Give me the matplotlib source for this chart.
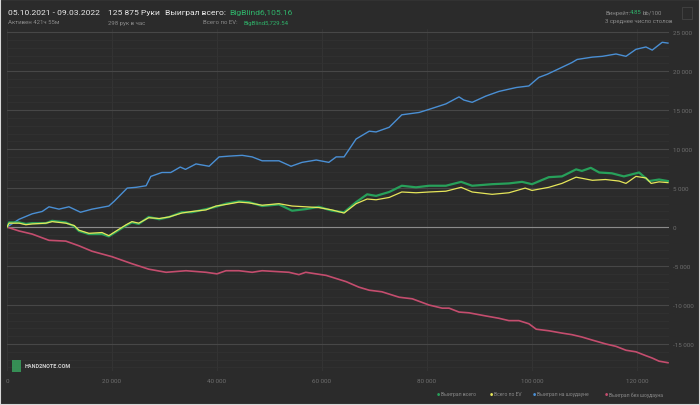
import matplotlib
matplotlib.use("Agg")
import matplotlib.pyplot as plt
from matplotlib.ticker import FuncFormatter, MultipleLocator
from matplotlib.patches import Rectangle

plt.rcParams['font.family'] = ['Roboto', 'DejaVu Sans']

# hands (thousands) and winnings in big blinds
sd_hands = [0, 2.3, 4.8, 6.7, 8, 9.9, 11.8, 14, 16.2, 19.4, 20.4, 22.9, 24.6, 26.5, 27.4,
            29.5, 31.2, 33, 34, 36, 38.5, 40.4, 42.3, 44.8, 46.7, 48.6, 51.8, 54.1, 56.2,
            58.9, 61.3, 62.7, 64.2, 66.5, 69, 70.3, 72.8, 75.2, 78.5, 80.4, 83.6, 86.1, 87,
            88.6, 91.2, 93.7, 97, 99.4, 101.3, 102.9, 105.1, 107.6, 108.6, 111.5, 113.4, 116,
            117.9, 119.8, 121.7, 122.9, 124.8, 125.9]
sd_won = [0, 1000, 1700, 2000, 2600, 2300, 2600, 1900, 2300, 2700, 3300, 5000, 5100, 5300, 6500,
          7000, 7000, 7700, 7400, 8100, 7800, 9000, 9100, 9200, 9000, 8500, 8500, 7800, 8300,
          8600, 8300, 9000, 9000, 11300, 12300, 12200, 12800, 14400, 14700, 15100, 15800, 16700, 16300,
          16000, 16800, 17400, 17900, 18100, 19200, 19600, 20300, 21100, 21500, 21800, 21900, 22200,
          21900, 22800, 23100, 22700, 23700, 23600]

tot_hands = [0, 0.4, 2.3, 3.6, 4.8, 7.4, 8.6, 11.2, 12.8, 13.7, 15.6, 18.1, 19.4, 20.8, 22.7,
             23.8, 25.1, 27, 29, 30.9, 33.3, 35.2, 37.9, 39.8, 41.7, 44.2, 46.1, 48.6, 51.8,
             54.3, 56.9, 59.4, 61.9, 64.2, 66.5, 68.6, 70.3, 72.8, 75.2, 77.9, 80.4, 83.6, 86.5,
             88.6, 92.4, 95.6, 98.1, 100, 103.2, 105.7, 108.4, 109.5, 111.2, 112.8, 115.2, 117.5,
             120.4, 122.3, 124.2, 125.9]
tot_won = [0, 600, 600, 400, 500, 500, 800, 600, 100, -500, -900, -900, -1200, -600, 200,
           600, 400, 1300, 1000, 1300, 1900, 1900, 2300, 2600, 3000, 3300, 3200, 2700, 2900,
           2100, 2300, 2600, 2100, 1900, 3200, 4200, 4000, 4500, 5300, 5100, 5300, 5300, 5800,
           5300, 5500, 5600, 5800, 5500, 6400, 6500, 7400, 7200, 7600, 7000, 6900, 6500,
           7000, 5900, 6100, 5900]

ev_hands = [0, 0.4, 2.3, 3.6, 4.8, 7.4, 8.6, 11.2, 12.8, 13.7, 15.6, 18.1, 19.4, 20.8, 22.7,
            23.8, 25.1, 27, 29, 30.9, 33.3, 35.2, 37.9, 39.8, 41.7, 44.2, 46.1, 48.6, 51.8,
            54.3, 56.9, 59.4, 61.9, 64.2, 66.5, 68.6, 70.3, 72.8, 75.2, 77.9, 80.4, 83.6, 86.5,
            88.6, 92.4, 95.6, 98.7, 100, 103.2, 105.7, 108.4, 111.5, 114, 116.6, 117.9, 119.8,
            121.7, 122.7, 124.2, 125.9]
ev_won = [0, 500, 500, 300, 400, 500, 700, 500, 200, -400, -800, -700, -1100, -500, 300,
          700, 500, 1200, 1100, 1300, 1800, 2000, 2200, 2700, 2900, 3200, 3100, 2800, 3000,
          2700, 2600, 2500, 2200, 1800, 3000, 3600, 3500, 3800, 4500, 4400, 4500, 4600, 5100,
          4500, 4200, 4400, 5000, 4700, 5100, 5600, 6400, 6000, 6100, 5900, 5600, 6500,
          6300, 5600, 5800, 5700]

nsd_hands = [0, 2.3, 4.8, 8, 11.2, 13.7, 16.2, 20, 23.8, 27, 30.3, 34.1, 37.9, 40, 41.7, 44.2,
             46.7, 48.6, 53.7, 55.6, 56.9, 60.8, 62.7, 64.6, 67, 69, 71.4, 74.7, 77.2, 80.4,
             82.9, 84.2, 86.1, 88, 91.2, 93.7, 95.6, 97.5, 99.4, 100.8, 103.2, 105.7, 107.6,
             109.5, 111.5, 114.1, 116, 117.9, 119.8, 121.7, 122.9, 124.2, 125.9]
nsd_won = [0, -500, -900, -1700, -1800, -2400, -3100, -3800, -4700, -5400, -5800, -5600, -5800, -6000, -5600, -5600,
           -5800, -5600, -5800, -6100, -5800, -6200, -6600, -7000, -7700, -8100, -8300, -9000, -9200, -10000,
           -10400, -10400, -10900, -11000, -11400, -11700, -12000, -12000, -12400, -13100, -13300, -13600, -13800,
           -14100, -14500, -15000, -15300, -15800, -16000, -16500, -16800, -17200, -17400]

x_ticks = [0, 20000, 40000, 60000, 80000, 100000, 120000]
legend_labels = ["Выиграл всего", "Всего по EV", "Выиграл на шоудауне", "Выиграл без шоудауна"]

BG = "#2b2b2b"
C_TOT = "#27a05a"
C_EV = "#e6e65a"
C_SD = "#4a8fd4"
C_NSD = "#c44d6e"
GREEN_TXT = "#2fb36a"
GRAY_TXT = "#8a8a8a"

fig = plt.figure(figsize=(7, 4.06), dpi=100, facecolor=BG)
ax = fig.add_axes([0.01, 0.083, 0.945, 0.843], facecolor=BG)


def k(v):
    return [h * 1000 for h in v]


ax.plot(k(sd_hands), sd_won, color=C_SD, lw=1.0, zorder=4)
ax.plot(k(nsd_hands), nsd_won, color=C_NSD, lw=1.2, zorder=4)
ax.plot(k(tot_hands), tot_won, color=C_TOT, lw=1.6, zorder=5)
ax.plot(k(ev_hands), ev_won, color=C_EV, lw=0.9, zorder=6)

ax.set_xlim(0, 126000)
ax.set_ylim(-18500, 25400)

fmt = FuncFormatter(lambda v, p: f"{int(v):,}".replace(",", " "))
ax.set_xticks(x_ticks)
ax.xaxis.set_major_formatter(fmt)
ax.yaxis.set_major_locator(MultipleLocator(5000))
ax.yaxis.set_minor_locator(MultipleLocator(1000))
ax.yaxis.set_major_formatter(fmt)
ax.yaxis.tick_right()
ax.tick_params(axis='both', which='both', length=0, colors="#6e6e6e", labelsize=4.5)
ax.tick_params(axis='y', pad=3)
ax.tick_params(axis='x', pad=5)
for lbl in ax.get_yticklabels():
    lbl.set_horizontalalignment('left')

ax.grid(axis='y', which='major', color="#474747", lw=0.8)
ax.grid(axis='y', which='minor', color="#323232", lw=0.6)
ax.grid(axis='x', which='major', color="#353535", lw=0.6)
ax.axhline(0, color="#8a8a8a", lw=0.8, zorder=3)
for s in ax.spines.values():
    s.set_visible(False)


def px(x, y):
    return x / 700, 1 - y / 406


# header
fig.text(*px(8, 13), "05.10.2021 - 09.03.2022", color="#e8e8e8", fontsize=6.1, va='center')
fig.text(*px(8, 23), "Активен 421ч 55м", color=GRAY_TXT, fontsize=4.3, va='center')
fig.text(*px(108, 13), "125 875 Руки", color="#e8e8e8", fontsize=6.1, va='center')
fig.text(*px(108, 23), "298 рук в час", color=GRAY_TXT, fontsize=4.3, va='center')
fig.text(*px(226, 13), "Выиграл всего:", color="#e8e8e8", fontsize=6.1, va='center', ha='right')
fig.text(*px(229, 13), "BigBlind6,105.16", color=GREEN_TXT, fontsize=6.1, va='center')
fig.text(*px(238, 23), "Всего по EV:", color=GRAY_TXT, fontsize=4.3, va='center', ha='right')
fig.text(*px(288, 23), "BigBlind5,729.54", color=GREEN_TXT, fontsize=4.3, va='center', ha='right')
fig.text(*px(605, 13), "Винрейт:", color=GRAY_TXT, fontsize=4.3, va='center')
fig.text(*px(630, 13), "4.85", color=GREEN_TXT, fontsize=4.3, va='center')
fig.text(*px(643, 13), "bb/100", color=GRAY_TXT, fontsize=4.3, va='center')
fig.text(*px(605, 22), "3 среднее число столов", color=GRAY_TXT, fontsize=4.3, va='center')
fig.patches.append(Rectangle(px(682, 20), 10 / 700, 12 / 406, transform=fig.transFigure,
                             facecolor="none", edgecolor="#444444", lw=0.6))

# watermark
fig.patches.append(Rectangle(px(12, 373), 9 / 700, 12 / 406, transform=fig.transFigure,
                             facecolor="#3aa860", edgecolor="none", alpha=0.8))
fig.text(*px(25, 367), "HAND2NOTE.COM", color="#d0d0d0", fontsize=4.0, va='center', weight='bold')

# legend
leg_x = [437, 490, 533, 605]
leg_c = [C_TOT, C_EV, C_SD, C_NSD]
for xp, lab, c in zip(leg_x, legend_labels, leg_c):
    fig.text(*px(xp, 395), "●", color=c, fontsize=2.6, va='center')
    fig.text(*px(xp + 4, 395), lab, color=GRAY_TXT, fontsize=3.6, va='center')

fig.patches.append(Rectangle((0, 0), 1, 1, transform=fig.transFigure, facecolor="none",
                             edgecolor="#d8d8d8", lw=1.5))

fig.savefig("out.png", dpi=100, facecolor=BG)
